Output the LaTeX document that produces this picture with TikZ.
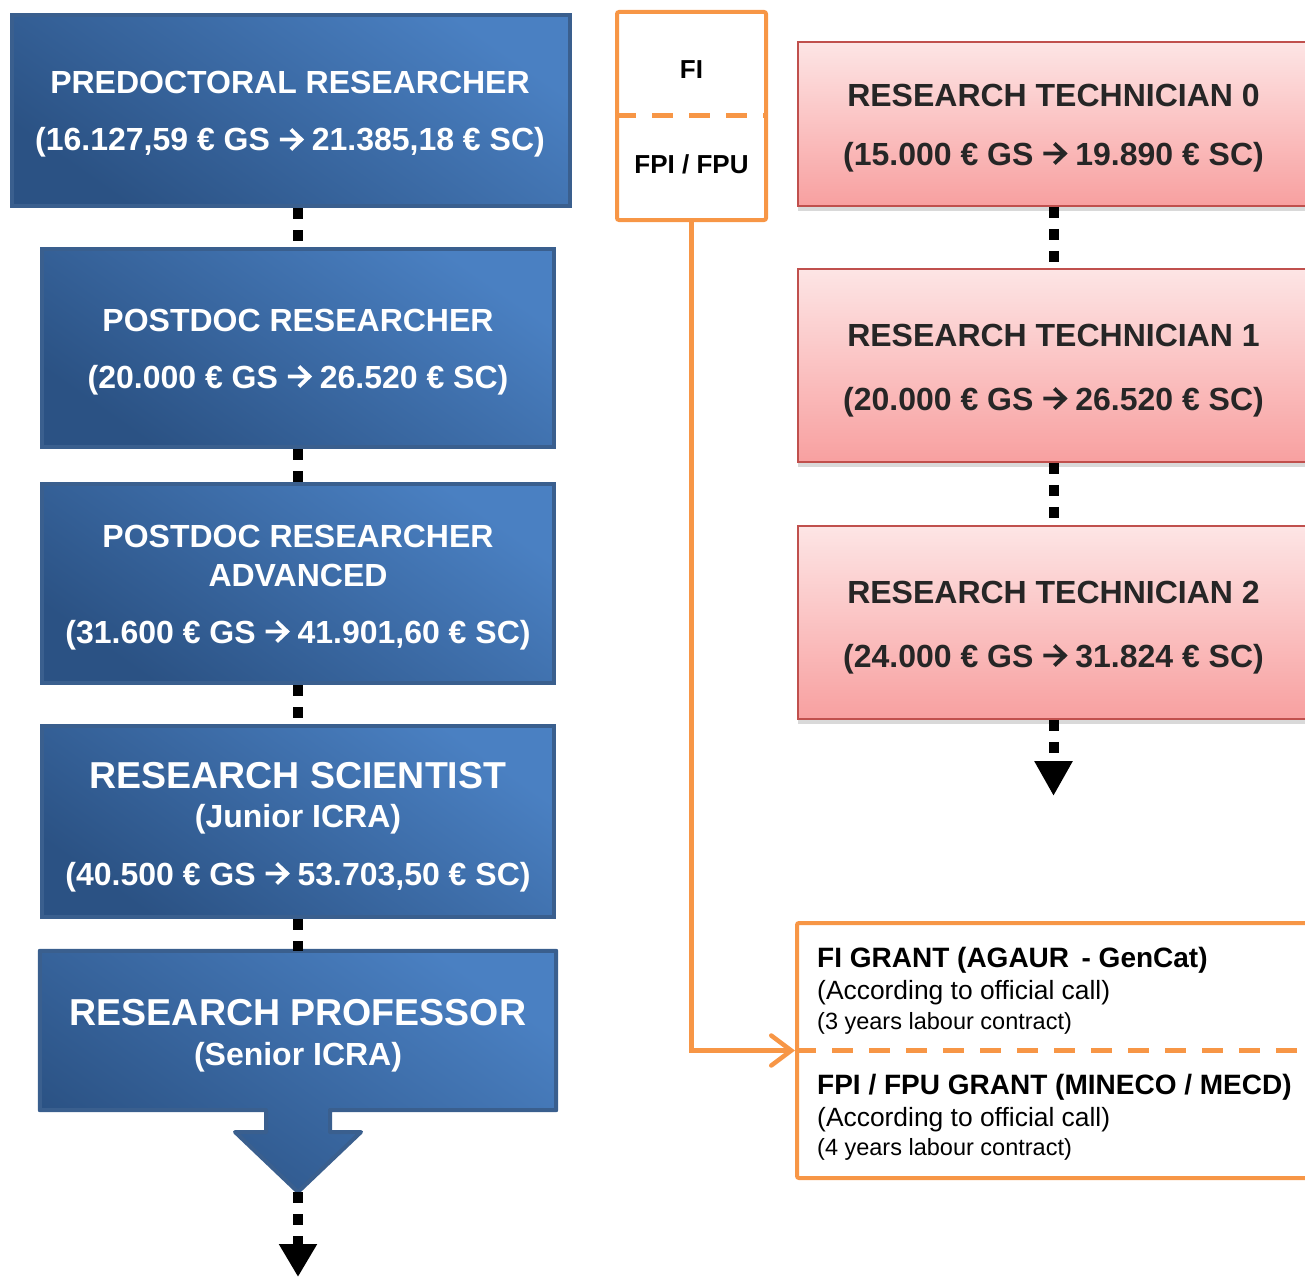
\documentclass[tikz,border=0pt]{standalone}
\usepackage{fontspec}
\setmainfont{Liberation Sans}
\usetikzlibrary{arrows.meta,shadows}
\definecolor{blueL}{HTML}{4A80C2}
\definecolor{blueD}{HTML}{2B5284}
\definecolor{blueB}{HTML}{3A5F8E}
\definecolor{pinkT}{HTML}{FDE5E5}
\definecolor{pinkB}{HTML}{F8A0A0}
\definecolor{pinkE}{HTML}{C0504D}
\definecolor{orng}{HTML}{F79646}
\definecolor{txtD}{HTML}{262626}
\newcommand{\rar}{\tikz[x=1pt,y=1pt,baseline=0pt]{\path[use as bounding box] (-1,0) rectangle (23,22);
  \draw[draw=., line width=3.8pt, line cap=butt, line join=miter] (0,11.5) -- (21,11.5) (11,1.5) -- (21.5,11.5) -- (11,21.5);}}
\begin{document}
\begin{tikzpicture}[x=1pt,y=-1pt,
  bluebox/.style={draw=blueB, line width=4pt, top color=blueL, bottom color=blueD, shading angle=-35, inner sep=0pt},
  pinkbox/.style={draw=pinkE, line width=1.5pt, top color=pinkT, bottom color=pinkB, inner sep=0pt,
     drop shadow={shadow xshift=0pt, shadow yshift=-5pt, opacity=0.3}},
  orbox/.style={draw=orng, line width=4pt, fill=white, inner sep=0pt, rounded corners=2pt},
  ordash/.style={draw=orng, line width=5pt, dash pattern=on 21pt off 16pt},
  dots/.style={draw=black, line width=10pt, dash pattern=on 11pt off 11pt},
  bt/.style={text=white, font=\bfseries\fontsize{32}{38}\selectfont, anchor=base, inner sep=0pt},
  btL/.style={bt, font=\bfseries\fontsize{37.5}{44}\selectfont},
  pt/.style={text=txtD, font=\bfseries\fontsize{32}{38}\selectfont, anchor=base, inner sep=0pt},
  ft/.style={text=black, font=\bfseries\fontsize{26}{31}\selectfont, anchor=base, inner sep=0pt},
  gb/.style={text=black, font=\bfseries\fontsize{28}{33}\selectfont, anchor=base west, inner sep=0pt},
  gr/.style={text=black, font=\fontsize{26.4}{31}\selectfont, anchor=base west, inner sep=0pt},
  gs/.style={text=black, font=\fontsize{23.5}{28}\selectfont, anchor=base west, inner sep=0pt}
]
\useasboundingbox (0,0) rectangle (1305,1276);
\clip (0,0) rectangle (1305,1276);

% ---- blue column ----
\node[bluebox, minimum width=558pt, minimum height=191pt] (pre) at (291,110.5) {};
\node[bluebox, minimum width=512pt, minimum height=198pt] (post) at (298,348) {};
\node[bluebox, minimum width=512pt, minimum height=199pt] (adv) at (298,583.5) {};
\node[bluebox, minimum width=512pt, minimum height=191pt] (sci) at (298,821.5) {};
\node[inner sep=0pt, minimum width=516pt, minimum height=159pt] (prof) at (298,1030.5) {};
\draw[bluebox, line join=round] (prof.north west) -- (prof.north east) -- (prof.south east)
  -- (330,1110) -- (330,1132) -- (361,1132) -- (298,1192) -- (235,1132) -- (266,1132)
  -- (266,1110) -- (prof.south west) -- cycle;
\coordinate (proftip) at (298,1192);
\coordinate (endA) at (298,1277);

\node[bt] (preA) at (290,94) {PREDOCTORAL RESEARCHER};
\node[bt] (preB) at (290,151) {(16.127,59 € GS \rar{} 21.385,18 € SC)};
\node[bt] (postA) at (298,331) {POSTDOC RESEARCHER};
\node[bt] (postB) at (298,388) {(20.000 € GS \rar{} 26.520 € SC)};
\node[bt] (advA) at (298,547) {POSTDOC RESEARCHER};
\node[bt] (advB) at (298,586) {ADVANCED};
\node[bt] (advC) at (298,643) {(31.600 € GS \rar{} 41.901,60 € SC)};
\node[btL] (sciA) at (298,788) {RESEARCH SCIENTIST};
\node[bt] (sciB) at (298,827) {(Junior ICRA)};
\node[bt] (sciC) at (298,885) {(40.500 € GS \rar{} 53.703,50 € SC)};
\node[btL] (profA) at (298,1025) {RESEARCH PROFESSOR};
\node[bt] (profB) at (298,1065) {(Senior ICRA)};

\draw[dots] (post.north |- pre.south) -- (post.north);
\draw[dots] (post.south) -- (adv.north);
\draw[dots] (adv.south) -- (sci.north);
\draw[dots] (sci.south) -- (prof.north);
\draw[dots, -{Triangle[length=33pt,width=36pt]}] (proftip) -- (endA);

% ---- pink column ----
\node[pinkbox, minimum width=511pt, minimum height=164pt] (t0) at (1053.5,124) {};
\node[pinkbox, minimum width=511pt, minimum height=193pt] (t1) at (1053.5,365.5) {};
\node[pinkbox, minimum width=511pt, minimum height=193pt] (t2) at (1053.5,622.5) {};
\coordinate (endB) at (1053.5,796);

\node[pt] (t0A) at (1053.5,107) {RESEARCH TECHNICIAN 0};
\node[pt] (t0B) at (1053.5,165) {(15.000 € GS \rar{} 19.890 € SC)};
\node[pt] (t1A) at (1053.5,346) {RESEARCH TECHNICIAN 1};
\node[pt] (t1B) at (1053.5,410) {(20.000 € GS \rar{} 26.520 € SC)};
\node[pt] (t2A) at (1053.5,603) {RESEARCH TECHNICIAN 2};
\node[pt] (t2B) at (1053.5,667) {(24.000 € GS \rar{} 31.824 € SC)};

\draw[dots] (t0.south) -- (t1.north);
\draw[dots] (t1.south) -- (t2.north);
\draw[dots, -{Triangle[length=35pt,width=36pt]}] (t2.south) -- (endB);

% ---- orange part ----
\node[orbox, minimum width=149pt, minimum height=208pt] (fi) at (691.5,116) {};
\draw[ordash] (fi.west) -- (fi.east);
\node[ft] (fiA) at (691.5,79) {FI};
\node[ft] (fiB) at (691.5,174) {FPI / FPU};

\node[orbox, minimum width=533pt, minimum height=255pt] (grant) at (1063.5,1050.5) {};
\draw[ordash] (grant.west) -- (grant.east);
\node[gb] (gA) at (817,967) {FI GRANT (AGAUR\, - GenCat)};
\node[gr] (gB) at (817,999.5) {(According to official call)};
\node[gs] (gC) at (817,1029.5) {(3 years labour contract)};
\node[gb] (gD) at (817,1094) {FPI / FPU GRANT (MINECO / MECD)};
\node[gr] (gE) at (817,1126.5) {(According to official call)};
\node[gs] (gF) at (817,1155.5) {(4 years labour contract)};

\draw[draw=orng, line width=4.5pt, -{Straight Barb[length=20pt,width=30pt,line cap=round]}]
  (fi.south) |- (grant.west);
\end{tikzpicture}
\end{document}
